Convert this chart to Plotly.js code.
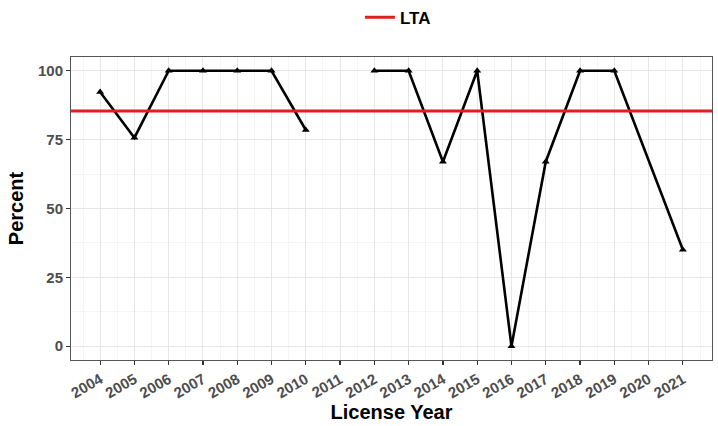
<!DOCTYPE html>
<html>
<head>
<meta charset="utf-8">
<script src="https://cdn.plot.ly/plotly-3.0.1.min.js"></script>
<style>html,body{margin:0;padding:0;background:#fff;}#chart{width:718px;height:426px;}</style>
</head>
<body>
<div id="chart"></div>
<script>
// Data
var years = [2004, 2005, 2006, 2007, 2008, 2009, 2010, 2011, 2012, 2013, 2014, 2015, 2016, 2017, 2018, 2019, 2021];
var percent = [92.3, 75.7, 100, 100, 100, 100, 78.5, null, 100, 100, 67, 100, 0, 67, 100, 100, 35];
var ltaValue = 85.4;
var ltaName = "LTA";
var xTitle = "License Year";
var yTitle = "Percent";

var font = "Liberation Sans, Arial, sans-serif";

var traces = [{
  type: "scatter",
  mode: "lines+markers",
  x: years,
  y: percent,
  connectgaps: false,
  showlegend: false,
  line: {color: "#000000", width: 2.6},
  marker: {symbol: "triangle-up", size: 7, color: "#000000"},
  hoverinfo: "x+y"
}];

var layout = {
  width: 718,
  height: 426,
  margin: {l: 71, r: 6, t: 57, b: 66, autoexpand: false},
  paper_bgcolor: "#ffffff",
  plot_bgcolor: "#ffffff",
  font: {family: font},
  showlegend: true,
  legend: {
    orientation: "h",
    x: 0.51, xanchor: "center",
    y: 1.13, yanchor: "middle",
    font: {family: font, size: 17, color: "#000000", weight: "bold"},
    bgcolor: "rgba(0,0,0,0)"
  },
  shapes: [{
    type: "line",
    xref: "x domain", x0: 0, x1: 1,
    yref: "y", y0: ltaValue, y1: ltaValue,
    line: {color: "#e01e1e", width: 3},
    showlegend: true,
    name: ltaName,
    layer: "above"
  }],
  xaxis: {
    range: [2003.15, 2021.85],
    tickmode: "linear", tick0: 2004, dtick: 1,
    tickangle: -30,
    ticks: "outside", ticklen: 4, tickwidth: 1.2, tickcolor: "#333333",
    tickfont: {family: font, size: 15, color: "#4d4d4d", weight: "bold"},
    showgrid: true, gridcolor: "#e6e6e6", gridwidth: 1,
    minor: {dtick: 0.5, tick0: 2003.5, showgrid: true, gridcolor: "#f2f2f2", gridwidth: 0.8, ticks: ""},
    zeroline: false,
    showline: true, mirror: true, linecolor: "#555555", linewidth: 1,
    title: {text: xTitle, font: {family: font, size: 20, color: "#000000", weight: "bold"}, standoff: 4}
  },
  yaxis: {
    range: [-5, 105],
    tickmode: "linear", tick0: 0, dtick: 25,
    ticks: "outside", ticklen: 4, tickwidth: 1.2, tickcolor: "#333333",
    tickfont: {family: font, size: 15, color: "#4d4d4d", weight: "bold"},
    showgrid: true, gridcolor: "#e6e6e6", gridwidth: 1,
    minor: {dtick: 12.5, tick0: 0, showgrid: true, gridcolor: "#f2f2f2", gridwidth: 0.8, ticks: ""},
    zeroline: false,
    showline: true, mirror: true, linecolor: "#555555", linewidth: 1,
    title: {text: yTitle, font: {family: font, size: 20, color: "#000000", weight: "bold"}, standoff: 8}
  }
};

Plotly.newPlot("chart", traces, layout, {displayModeBar: false, staticPlot: true});
</script>
</body>
</html>
